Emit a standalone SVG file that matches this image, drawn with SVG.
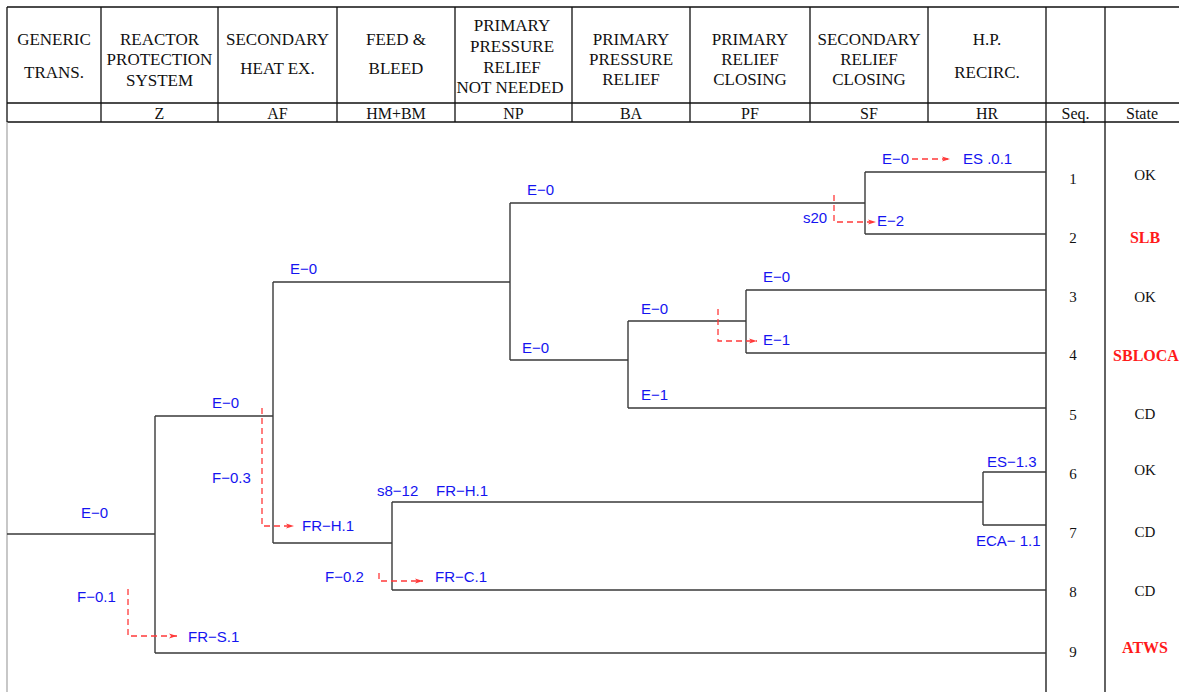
<svg xmlns="http://www.w3.org/2000/svg" width="1179" height="692" viewBox="0 0 1179 692">
<style>
.hd{font-family:"Liberation Serif",serif;font-size:17px;fill:#111;text-anchor:middle}
.cd{font-family:"Liberation Serif",serif;font-size:16px;fill:#111;text-anchor:middle}
.grid{stroke:#111;stroke-width:1.3;fill:none}
.tr{stroke:#3a3a3a;stroke-width:1.4;fill:none}
.lb{font-family:"Liberation Sans",sans-serif;font-size:15px;fill:#1414f0}
.dash{stroke:#ff3a3a;stroke-width:1.3;fill:none;stroke-dasharray:6 4}
.seq{font-family:"Liberation Serif",serif;font-size:15px;fill:#111;text-anchor:middle}
.st{font-family:"Liberation Serif",serif;font-size:15px;fill:#111;text-anchor:middle}
.bad{font-family:"Liberation Serif",serif;font-size:16px;font-weight:bold;fill:#ff1a1a;text-anchor:middle}
</style>
<defs>
<marker id="ah" markerWidth="9" markerHeight="6" refX="8" refY="3" orient="auto" markerUnits="userSpaceOnUse">
<path d="M0,0.5 L8,3 L0,5.5 L2,3 z" fill="#ff3a3a"/>
</marker>
</defs>
<rect width="1179" height="692" fill="#fff"/>

<g id="header-grid">
<path class="grid" d="M7,7 H1179 M7,103 H1179 M7,122 H1179 M7,7 V122 M101,7 V122 M218,7 V122 M337,7 V122 M455,7 V122 M572,7 V122 M690,7 V122 M810,7 V122 M928,7 V122 M1046,7 V692 M1105,7 V692"/>
<path d="M7,122 V692" stroke="#aaa" stroke-width="1.3"/>
</g>

<g id="col-generic"><text class="hd" x="54" y="45">GENERIC</text><text class="hd" x="54" y="78">TRANS.</text></g>
<g id="col-Z"><text class="hd" x="159.5" y="45">REACTOR</text><text class="hd" x="159.5" y="65">PROTECTION</text><text class="hd" x="159.5" y="86">SYSTEM</text><text class="cd" x="159.5" y="119">Z</text></g>
<g id="col-AF"><text class="hd" x="277.5" y="45">SECONDARY</text><text class="hd" x="277.5" y="74">HEAT EX.</text><text class="cd" x="277.5" y="119">AF</text></g>
<g id="col-HMBM"><text class="hd" x="396" y="45">FEED &amp;</text><text class="hd" x="396" y="74">BLEED</text><text class="cd" x="396" y="119">HM+BM</text></g>
<g id="col-NP"><text class="hd" x="512" y="31">PRIMARY</text><text class="hd" x="512" y="52">PRESSURE</text><text class="hd" x="512" y="73">RELIEF</text><text class="hd" x="510" y="93">NOT NEEDED</text><text class="cd" x="513.5" y="119">NP</text></g>
<g id="col-BA"><text class="hd" x="631" y="45">PRIMARY</text><text class="hd" x="631" y="65">PRESSURE</text><text class="hd" x="631" y="85">RELIEF</text><text class="cd" x="631" y="119">BA</text></g>
<g id="col-PF"><text class="hd" x="750" y="45">PRIMARY</text><text class="hd" x="750" y="65">RELIEF</text><text class="hd" x="750" y="85">CLOSING</text><text class="cd" x="750" y="119">PF</text></g>
<g id="col-SF"><text class="hd" x="869" y="45">SECONDARY</text><text class="hd" x="869" y="65">RELIEF</text><text class="hd" x="869" y="85">CLOSING</text><text class="cd" x="869" y="119">SF</text></g>
<g id="col-HR"><text class="hd" x="987" y="45">H.P.</text><text class="hd" x="987" y="78">RECIRC.</text><text class="cd" x="987" y="119">HR</text></g>
<g id="col-seq"><text class="cd" x="1075.5" y="119" font-size="15">Seq.</text></g>
<g id="col-state"><text class="cd" x="1142" y="119" font-size="15">State</text></g>

<g id="connectors">
<path class="tr" d="M7,534 H155 M155,416 V653 M155,416 H273 M155,653 H1046
M273,282 V543 M273,282 H510 M273,543 H392
M392,502 V590 M392,502 H983 M392,590 H1046
M983,472 V525 M983,472 H1046 M983,525 H1046
M510,203 V360 M510,203 H865 M510,360 H628
M865,172 V234 M865,172 H1046 M865,234 H1046
M628,321 V408 M628,321 H746 M628,408 H1046
M746,290 V353 M746,290 H1046 M746,353 H1046"/>
<g id="failure-arrows">
<path class="dash" d="M128,589 V636 H177" marker-end="url(#ah)"/>
<path class="dash" d="M262,408 V526 H294" marker-end="url(#ah)"/>
<path class="dash" d="M379,573 V581 H423" marker-end="url(#ah)"/>
<path class="dash" d="M718,309 V341 H757" marker-end="url(#ah)"/>
<path class="dash" d="M834,195 V222 H876" marker-end="url(#ah)"/>
<path class="dash" d="M912,159 H950" marker-end="url(#ah)"/>
</g>
</g>

<g id="node-root"><text class="lb" x="81" y="518">E−0</text><text class="lb" x="77" y="602">F−0.1</text><text class="lb" x="188" y="642">FR−S.1</text></g>
<g id="node-Z"><text class="lb" x="212" y="408">E−0</text><text class="lb" x="212" y="483">F−0.3</text><text class="lb" x="302" y="531">FR−H.1</text></g>
<g id="node-AF-ok"><text class="lb" x="290" y="274">E−0</text></g>
<g id="node-AF-fail"><text class="lb" x="377" y="496">s8−12</text><text class="lb" x="436" y="496">FR−H.1</text><text class="lb" x="325" y="582">F−0.2</text><text class="lb" x="435" y="582">FR−C.1</text></g>
<g id="node-HR"><text class="lb" x="987" y="467">ES−1.3</text><text class="lb" x="976" y="546">ECA− 1.1</text></g>
<g id="node-NP"><text class="lb" x="527" y="195">E−0</text><text class="lb" x="522" y="353">E−0</text></g>
<g id="node-SF"><text class="lb" x="882" y="164">E−0</text><text class="lb" x="963" y="164">ES .0.1</text><text class="lb" x="803" y="223">s20</text><text class="lb" x="877" y="226">E−2</text></g>
<g id="node-BA"><text class="lb" x="641" y="314">E−0</text><text class="lb" x="641" y="400">E−1</text></g>
<g id="node-PF"><text class="lb" x="763" y="282">E−0</text><text class="lb" x="763" y="345">E−1</text></g>

<g id="seq-1"><text class="seq" x="1073" y="184">1</text><text class="st" x="1145" y="180">OK</text></g>
<g id="seq-2"><text class="seq" x="1073" y="243">2</text><text class="bad" x="1145" y="243">SLB</text></g>
<g id="seq-3"><text class="seq" x="1073" y="302">3</text><text class="st" x="1145" y="302">OK</text></g>
<g id="seq-4"><text class="seq" x="1073" y="360">4</text><text class="bad" x="1146" y="361">SBLOCA</text></g>
<g id="seq-5"><text class="seq" x="1073" y="420">5</text><text class="st" x="1145" y="419">CD</text></g>
<g id="seq-6"><text class="seq" x="1073" y="479">6</text><text class="st" x="1145" y="475">OK</text></g>
<g id="seq-7"><text class="seq" x="1073" y="538">7</text><text class="st" x="1145" y="537">CD</text></g>
<g id="seq-8"><text class="seq" x="1073" y="597">8</text><text class="st" x="1145" y="596">CD</text></g>
<g id="seq-9"><text class="seq" x="1073" y="657">9</text><text class="bad" x="1145" y="653">ATWS</text></g>
</svg>
